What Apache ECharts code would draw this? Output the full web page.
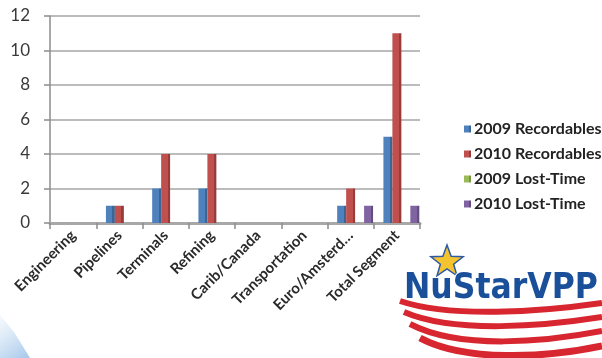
<!DOCTYPE html>
<html>
<head>
<meta charset="utf-8">
<script src="https://cdn.jsdelivr.net/npm/echarts@6/dist/echarts.min.js"></script>
<style>
  html, body { margin: 0; padding: 0; background: #fff; }
  #chart { width: 602px; height: 358px; }
</style>
</head>
<body>
<div id="chart"></div>
<script>
// Safety incidents by business segment
const categories = ['Engineering', 'Pipelines', 'Terminals', 'Refining', 'Carib/Canada', 'Transportation', 'Euro/Amsterd…', 'Total Segment'];
const rec2009  = [0, 1, 2, 2, 0, 0, 1, 5];
const rec2010  = [0, 1, 4, 4, 0, 0, 2, 11];
const lost2009 = [0, 0, 0, 0, 0, 0, 0, 0];
const lost2010 = [0, 0, 0, 0, 0, 0, 1, 1];
const yTicks = [0, 2, 4, 6, 8, 10, 12];

const seriesNames  = ['2009 Recordables', '2010 Recordables', '2009 Lost-Time', '2010 Lost-Time'];
const seriesValues = [rec2009, rec2010, lost2009, lost2010];
const seriesColors = ['#4F81BD', '#C0504D', '#9BBB59', '#8064A2'];
const sideColors   = ['#3A6595', '#973C3A', '#7A9646', '#644D81'];

const font = 'Lato, "Open Sans", sans-serif';

// column face: lighter front, darker right edge for a shallow 3D look
function columnFill(i) {
  return new echarts.graphic.LinearGradient(0, 0, 1, 0, [
    { offset: 0, color: seriesColors[i] },
    { offset: 0.72, color: seriesColors[i] },
    { offset: 0.73, color: sideColors[i] },
    { offset: 1, color: sideColors[i] }
  ]);
}

// five-pointed star outline for the logo
function starPoints(cx, cy, rOut, rIn) {
  const pts = [];
  for (let k = 0; k < 10; k++) {
    const r = k % 2 === 0 ? rOut : rIn;
    const a = -Math.PI / 2 + k * Math.PI / 5;
    pts.push([cx + r * Math.cos(a), cy + r * Math.sin(a)]);
  }
  return pts;
}

const chart = echarts.init(document.getElementById('chart'), null, { renderer: 'canvas' });

const series = [
  // spacer slot that takes the place of the column depth on the left
  {
    name: '_depth', type: 'bar', data: categories.map(() => 0),
    itemStyle: { color: 'transparent' }, silent: true,
    barGap: '0%', barCategoryGap: '3%'
  }
].concat(seriesNames.map((name, i) => ({
  name: name,
  type: 'bar',
  data: seriesValues[i],
  barGap: '0%',
  barCategoryGap: '3%',
  itemStyle: { color: columnFill(i) },
  emphasis: { disabled: true }
})));

chart.setOption({
  animation: false,
  backgroundColor: '#ffffff',
  color: seriesColors,
  grid: { left: 50, right: 182, top: 16, bottom: 135 },
  legend: {
    data: seriesNames,
    orient: 'vertical',
    left: 459,
    top: 116,
    itemWidth: 7,
    itemHeight: 7,
    itemGap: 9,
    icon: 'rect',
    textStyle: { fontFamily: font, fontSize: 16, fontWeight: 'bold', color: '#222', padding: [0, 0, 0, -2] }
  },
  xAxis: {
    type: 'category',
    data: categories,
    boundaryGap: true,
    axisLine: { lineStyle: { color: '#a8a8a8', width: 3 } },
    axisTick: { show: true, length: 6, lineStyle: { color: '#8c8c8c', width: 1.5 } },
    axisLabel: {
      interval: 0, rotate: 45, margin: 10,
      fontFamily: font, fontSize: 15, fontWeight: 'bold', color: '#2a2a2a'
    }
  },
  yAxis: {
    type: 'value',
    min: yTicks[0],
    max: yTicks[yTicks.length - 1],
    interval: 2,
    axisLine: { show: true, lineStyle: { color: '#8c8c8c', width: 1.5 } },
    axisTick: { show: true, length: 6, lineStyle: { color: '#8c8c8c', width: 1.5 } },
    axisLabel: { margin: 20, fontFamily: font, fontSize: 17, color: '#3a3a3a' },
    splitLine: { lineStyle: { color: '#a6a6a6', width: 1.5 } }
  },
  series: series,
  graphic: [
    // pale blue sweep in the lower-left corner
    {
      type: 'polygon', silent: true,
      shape: { points: [[0, 315], [14, 332], [30, 358], [0, 358]] },
      style: {
        fill: new echarts.graphic.LinearGradient(0, 0, 1, 1, [
          { offset: 0, color: 'rgba(190,214,238,0.15)' },
          { offset: 1, color: 'rgba(140,185,230,0.8)' }
        ])
      }
    },
    // NuStarVPP logo: striped swoosh, star and word mark
    {
      type: 'group', silent: true,
      children: [
        { type: 'bezierCurve', shape: { x1: 400, y1: 301, cpx1: 450, cpy1: 318, cpx2: 540, cpy2: 312, x2: 602, y2: 303 },
          style: { stroke: '#d7262f', lineWidth: 6, fill: null } },
        { type: 'bezierCurve', shape: { x1: 404, y1: 312, cpx1: 455, cpy1: 334, cpx2: 545, cpy2: 326, x2: 602, y2: 317 },
          style: { stroke: '#d7262f', lineWidth: 6, fill: null } },
        { type: 'bezierCurve', shape: { x1: 410, y1: 324, cpx1: 460, cpy1: 350, cpx2: 545, cpy2: 342, x2: 602, y2: 331 },
          style: { stroke: '#d7262f', lineWidth: 6, fill: null } },
        { type: 'bezierCurve', shape: { x1: 420, y1: 338, cpx1: 465, cpy1: 362, cpx2: 545, cpy2: 358, x2: 602, y2: 346 },
          style: { stroke: '#d7262f', lineWidth: 7, fill: null } },
        { type: 'polygon', shape: { points: starPoints(447, 262, 17, 7) },
          style: { fill: '#f4c430', stroke: '#2d5aa6', lineWidth: 1.5 } },
        { type: 'text', left: 403, top: 270,
          style: { text: 'NuStarVPP', fontFamily: '"Liberation Sans Narrow", "DejaVu Sans Condensed", sans-serif',
                   fontSize: 35, fontWeight: 'bold', fill: '#1a4f9a', stroke: '#ffffff', lineWidth: 2 } }
      ]
    }
  ]
});
</script>
</body>
</html>
